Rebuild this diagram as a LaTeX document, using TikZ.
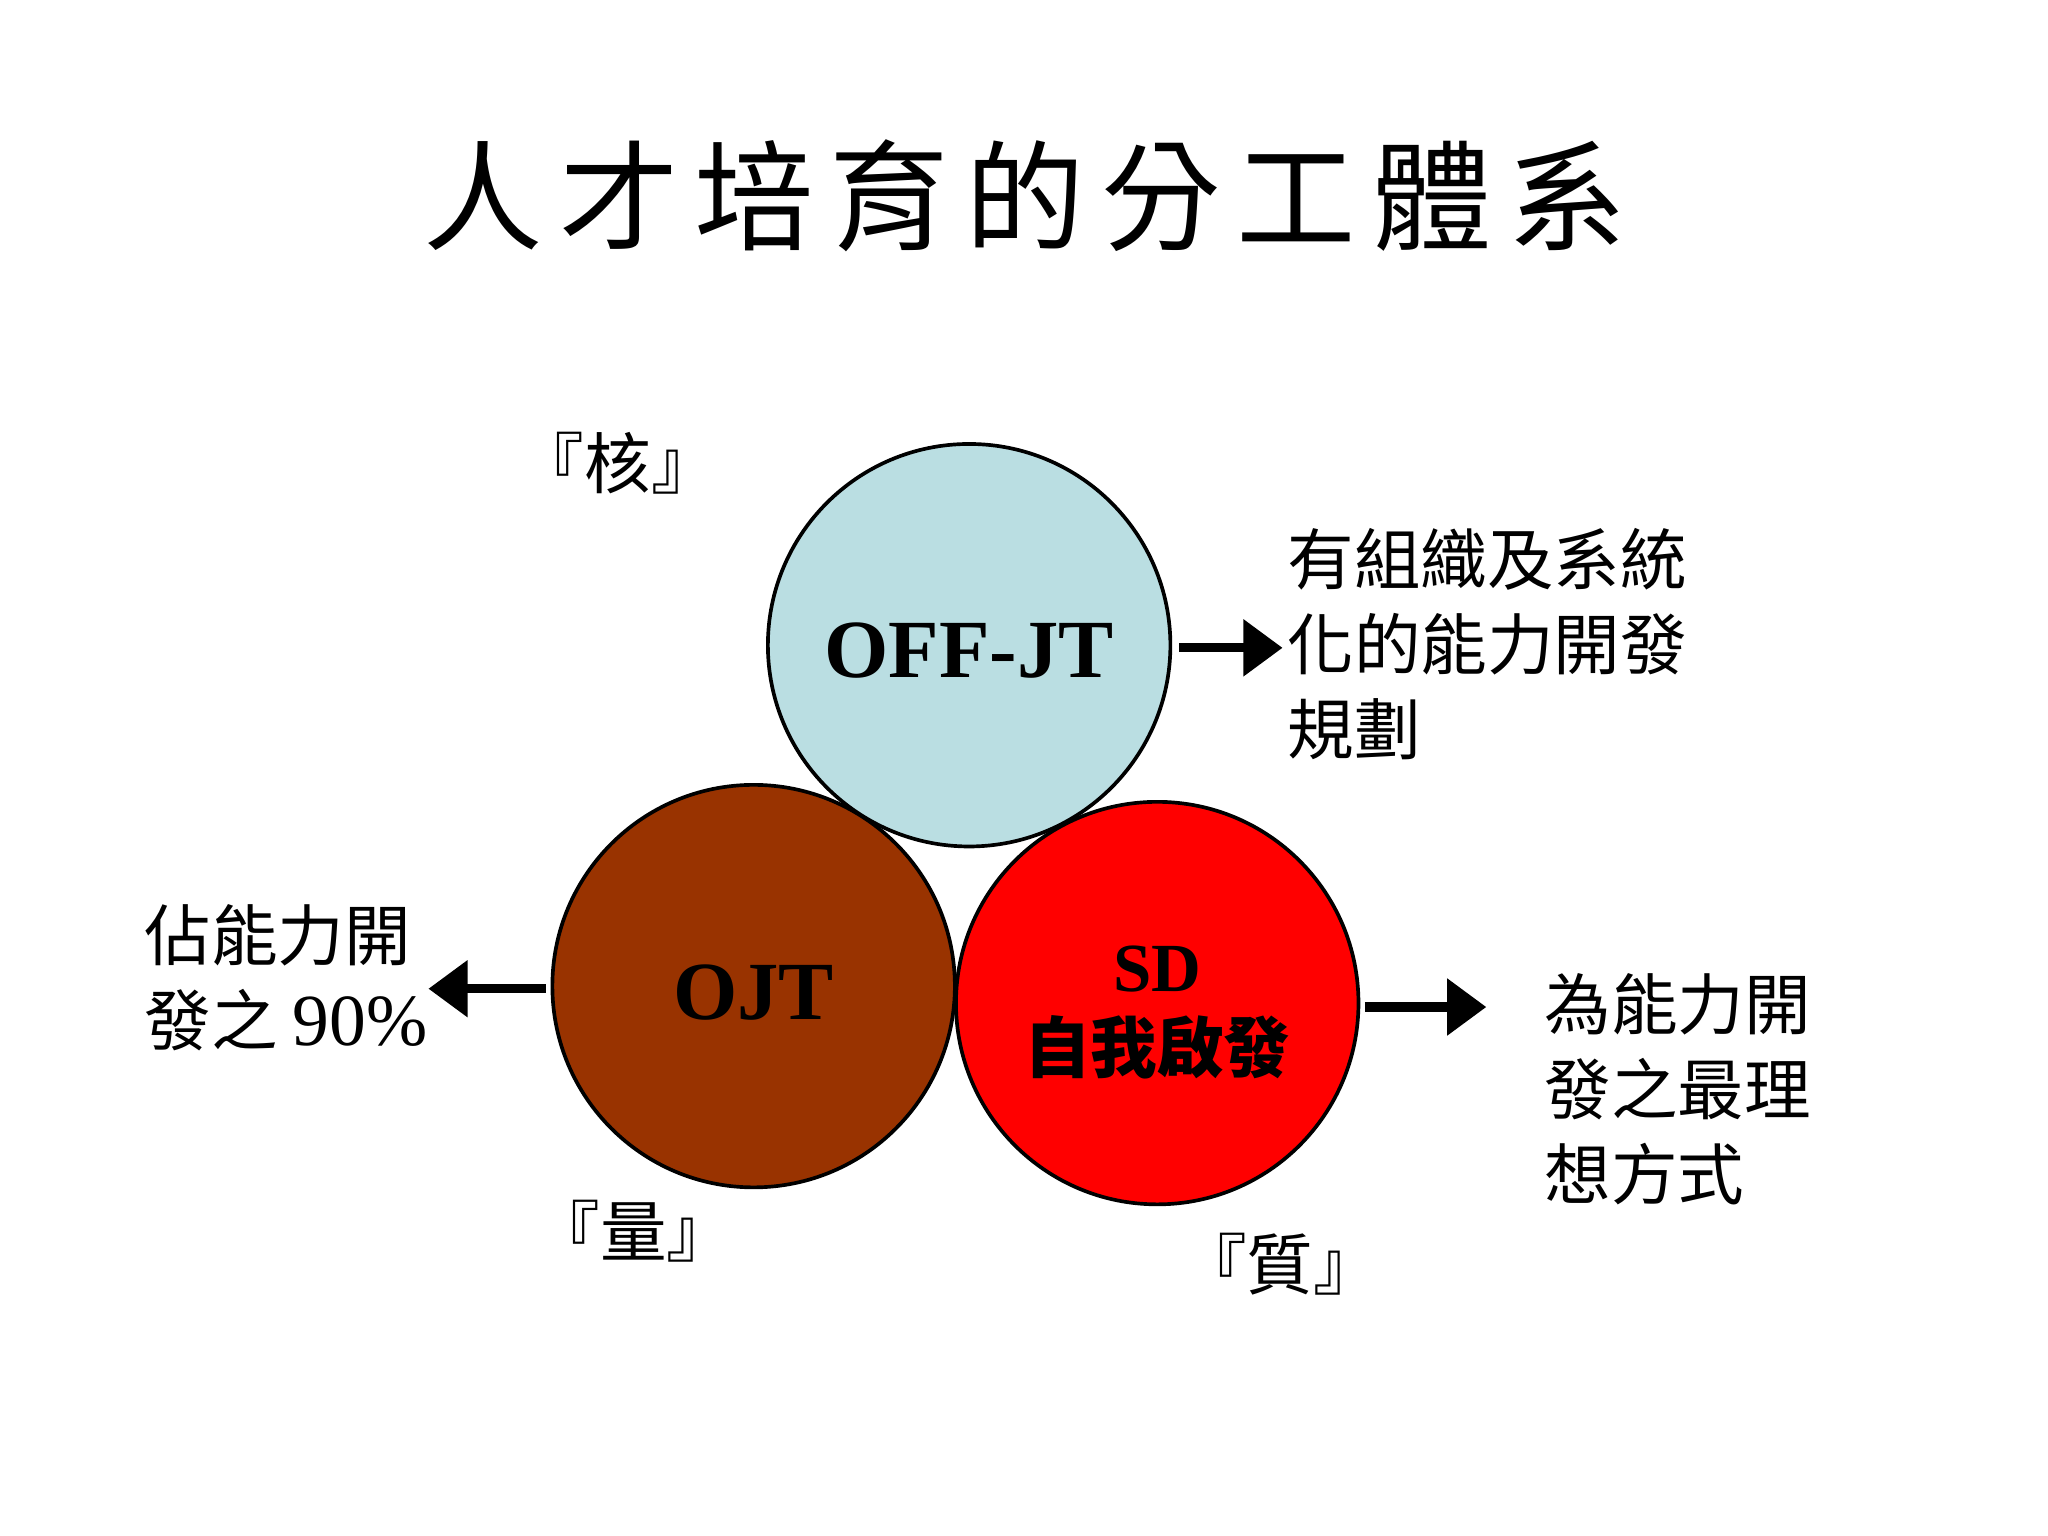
\documentclass[tikz,border=0pt]{standalone}
\usepackage{fontspec}
\setmainfont{Liberation Serif}
\newfontfamily\cjk{Noto Sans CJK TC}
\usetikzlibrary{arrows.meta}
\newcommand{\tsp}{\hspace{3.5pt}}
\begin{document}
\begin{tikzpicture}[x=0.01cm,y=-0.01cm,
  circ/.style={circle,draw=black,line width=0.8pt,minimum size=3.08cm,inner sep=0},
  blk/.style={line width=0.07cm,-{Triangle[length=0.3cm,width=0.42cm]}},
  body/.style={font=\cjk\fontsize{14.5}{18.5}\selectfont,align=left,anchor=north west,inner sep=0},
  tag/.style={font=\cjk\fontsize{14.5}{17}\selectfont,inner sep=0}]
\useasboundingbox (0,0) rectangle (1568,1176);
\node (title) at (785,150) {\cjk\fontsize{26}{30}\selectfont 人\tsp 才\tsp 培\tsp 育\tsp 的\tsp 分\tsp 工\tsp 體\tsp 系};
\node[circ,fill={rgb,255:red,186;green,222;blue,226}] (off) at (742,494) {};
\node[circ,fill={rgb,255:red,153;green,51;blue,0}] (ojt) at (577,755) {};
\node[circ,fill={rgb,255:red,255;green,0;blue,0}] (sd) at (886,768) {};
\node at (742,498) {\fontsize{18}{22}\selectfont\bfseries OFF-JT};
\node at (577,760) {\fontsize{18}{22}\selectfont\bfseries OJT};
\node at (886,742) {\fontsize{15}{18}\selectfont\bfseries SD};
\node at (886,802) {\cjk\bfseries\fontsize{14.5}{17}\selectfont 自我啟發};
\coordinate (a1s) at (903,496); \coordinate (a1e) at (982,496);
\coordinate (a2s) at (418,757); \coordinate (a2e) at (328,757);
\coordinate (a3s) at (1045,771); \coordinate (a3e) at (1138,771);
\draw[blk] (a1s) -- (a1e);
\draw[blk] (a2s) -- (a2e);
\draw[blk] (a3s) -- (a3e);
\node[body] (t1) at (985,404) {有組織及系統\\化的能力開發\\規劃};
\node[body] (t2) at (110,692) {佔能力開\\發之 {\rmfamily\fontsize{16}{18.5}\selectfont 90\%}};
\node[body] (t3) at (1182,745) {為能力開\\發之最理\\想方式};
\node[tag] (k1) at (473,355) {『核』};
\node[tag] (k2) at (485,943) {『量』};
\node[tag] (k3) at (980,968) {『質』};
\end{tikzpicture}
\end{document}
